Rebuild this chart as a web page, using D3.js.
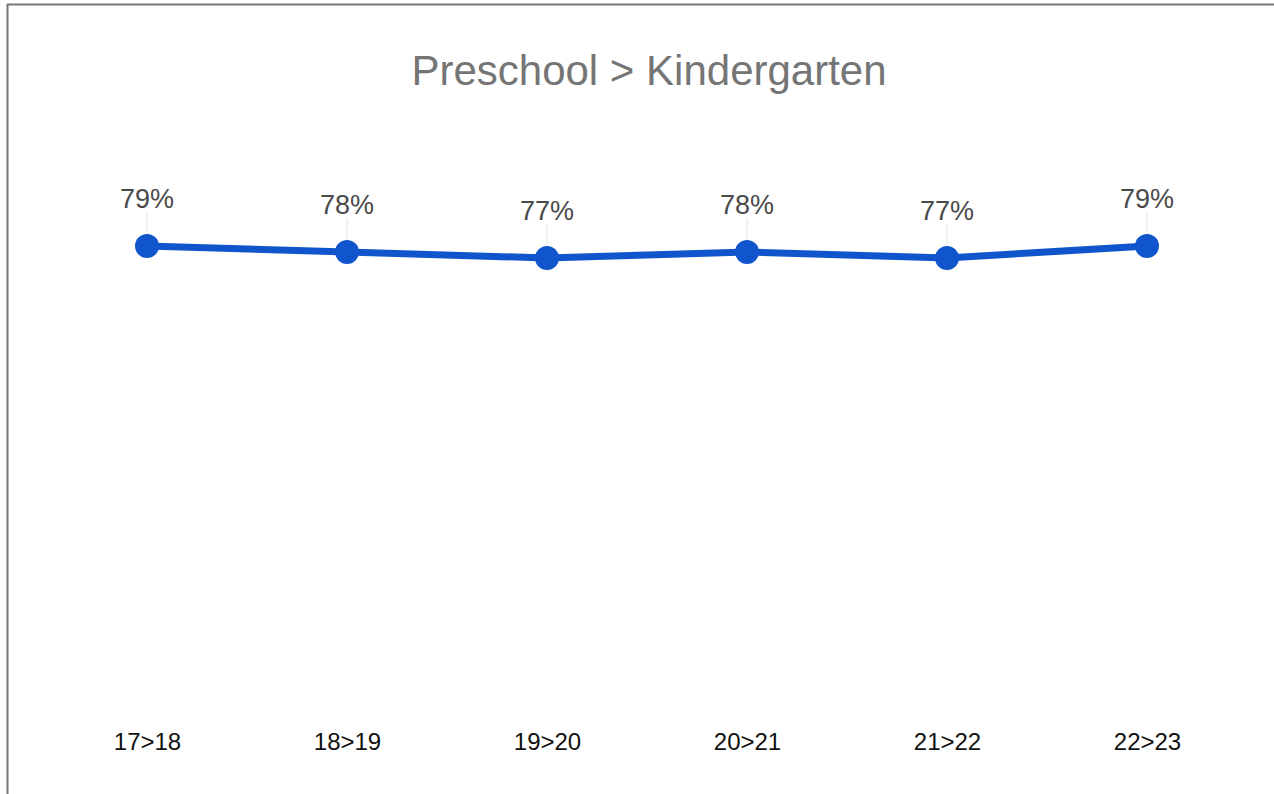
<!DOCTYPE html>
<meta charset="utf-8">
<head>
  <title>Preschool > Kindergarten</title>
</head>

<style>
body {
  margin: 0;
  background: #fff;
  font-family: "Liberation Sans", Arial, sans-serif;
}
</style>

<body>
  <div id="content"></div>

  <script src="https://cdnjs.cloudflare.com/ajax/libs/d3/7.8.5/d3.min.js"></script>

  <script>
var width = 1274, height = 794;

// years (transition from one school year to the next)
var categories = ['17>18', '18>19', '19>20', '20>21', '21>22', '22>23'];
// retention rate, percent
var rates = [79, 78, 77, 78, 77, 79];

var svg = d3.select('#content').append('svg')
  .attr('width', width)
  .attr('height', height);

// frame - only top and left edge are visible in the picture
svg.append('line')
  .attr('x1', 7).attr('x2', width).attr('y1', 4.5).attr('y2', 4.5)
  .attr('stroke', '#777').attr('stroke-width', 2);
svg.append('line')
  .attr('x1', 7.5).attr('x2', 7.5).attr('y1', 4).attr('y2', height)
  .attr('stroke', '#777').attr('stroke-width', 2);

svg.append('text')
  .attr('x', 649)
  .attr('y', 85)
  .attr('text-anchor', 'middle')
  .attr('fill', '#757575')
  .style('font-size', '42px')
  .text('Preschool > Kindergarten');

var x = d3.scalePoint()
  .domain(categories)
  .range([147, 1147]);

var y = d3.scaleLinear()
  .domain([0, 100])
  .range([720, 120]);

// x axis labels, no line or ticks
var xAxis = svg.append('g')
  .attr('transform', 'translate(0,' + 728 + ')')
  .call(d3.axisBottom(x).tickSize(0).tickPadding(0));
xAxis.select('.domain').remove();
xAxis.selectAll('text')
  .attr('dy', '0.9em')
  .attr('fill', '#111')
  .style('font-family', '"Liberation Sans", Arial, sans-serif')
  .style('font-size', '24px');

var data = categories.map(function(c, i) { return {cat: c, value: rates[i]}; });

// little leader lines from data label down to point
svg.selectAll('.leader')
  .data(data)
  .enter().append('line')
  .attr('class', 'leader')
  .attr('x1', function(d) { return x(d.cat); })
  .attr('x2', function(d) { return x(d.cat); })
  .attr('y1', function(d) { return y(d.value) - 34; })
  .attr('y2', function(d) { return y(d.value) - 8; })
  .attr('stroke', '#e2e2e2')
  .attr('stroke-width', 1);

var line = d3.line()
  .x(function(d) { return x(d.cat); })
  .y(function(d) { return y(d.value); });

svg.append('path')
  .datum(data)
  .attr('fill', 'none')
  .attr('stroke', '#1155cc')
  .attr('stroke-width', 7)
  .attr('d', line);

svg.selectAll('.dot')
  .data(data)
  .enter().append('circle')
  .attr('class', 'dot')
  .attr('cx', function(d) { return x(d.cat); })
  .attr('cy', function(d) { return y(d.value); })
  .attr('r', 12)
  .attr('fill', '#1155cc');

svg.selectAll('.val')
  .data(data)
  .enter().append('text')
  .attr('class', 'val')
  .attr('x', function(d) { return x(d.cat); })
  .attr('y', function(d) { return y(d.value) - 38; })
  .attr('text-anchor', 'middle')
  .attr('fill', '#4a4a4a')
  .style('font-size', '27px')
  .text(function(d) { return d.value + '%'; });
  </script>
</body>
</html>
